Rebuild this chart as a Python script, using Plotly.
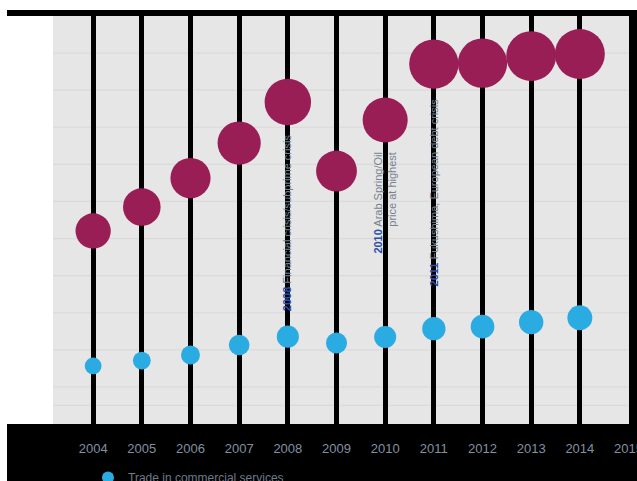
import plotly.graph_objects as go

years = [2004, 2005, 2006, 2007, 2008, 2009, 2010, 2011, 2012, 2013, 2014]
merchandise = [9.41, 10.70, 12.26, 14.15, 16.36, 12.64, 15.39, 18.41, 18.46, 18.84, 18.95]
services = [2.13, 2.42, 2.72, 3.26, 3.71, 3.37, 3.69, 4.14, 4.25, 4.49, 4.73]
tick_years = [2004, 2005, 2006, 2007, 2008, 2009, 2010, 2011, 2012, 2013, 2014, 2015]
tick_labels = [str(y) for y in tick_years]
y_grid_values = [0, 1, 3, 5, 7, 9, 11, 13, 15, 17, 19]

event_years = [2008, 2010, 2011]
event_texts = [
    "Financial crisis/subprime crisis",
    "Arab Spring/Oil<br>price at highest",
    "Fukushima, European debt crisis",
]
event_text_top = [14.7, 13.75, 16.6]

MAROON = "#981e55"
BLUE = "#2aace2"

W, H = 637, 481
ML, MR, MT, MB = 53, 8, 16, 57
PW = W - ML - MR
PH = H - MT - MB

def px(x):
    return (x - ML) / PW

def py(y):
    return (H - MB - y) / PH

sizeref = 2 * max(merchandise) / (50 ** 2)

fig = go.Figure()
fig.add_trace(go.Scatter(
    x=years, y=services, mode="markers", name="Trade in commercial services",
    marker=dict(size=services, sizemode="area", sizeref=sizeref, color=BLUE,
                line=dict(width=0), opacity=1),
))
fig.add_trace(go.Scatter(
    x=years, y=merchandise, mode="markers", name="Trade in merchandise",
    marker=dict(size=merchandise, sizemode="area", sizeref=sizeref, color=MAROON,
                line=dict(width=0), opacity=1),
))

# horizontal grid lines drawn above the black vertical grid lines
for gv in y_grid_values:
    fig.add_shape(type="line", xref="paper", yref="y", x0=0, x1=1, y0=gv, y1=gv,
                  line=dict(color="#dadada", width=1.2), layer="between")

for yr, txt, top in zip(event_years, event_texts, event_text_top):
    fig.add_annotation(
        x=yr, y=top, xref="x", yref="y", showarrow=False, textangle=-90,
        xanchor="center", yanchor="top", align="right",
        text=f"<b><span style='color:#2c4ea6'>{yr}</span></b> {txt}",
        font=dict(family="Liberation Sans, Arial", size=11, color="#76838f"),
        borderpad=0,
    )

white = dict(type="rect", xref="paper", yref="paper", fillcolor="white",
             line=dict(width=0), layer="below")
fig.add_shape(**white, x0=px(0), x1=px(W), y0=py(0), y1=py(10))
fig.add_shape(**white, x0=px(0), x1=px(7), y0=py(0), y1=py(H))
fig.add_shape(**white, x0=px(7), x1=px(ML), y0=py(16), y1=py(H - MB))

fig.update_layout(
    width=W, height=H,
    margin=dict(l=ML, r=MR, t=MT, b=MB, autoexpand=False),
    paper_bgcolor="black",
    plot_bgcolor="#e6e6e6",
    showlegend=True,
    legend=dict(xref="container", yref="container", x=88 / W, y=1 - 463 / H,
                xanchor="left", yanchor="top",
                orientation="v", bgcolor="rgba(0,0,0,0)",
                font=dict(family="Liberation Sans, Arial", size=12, color="#6c7a89"),
                itemsizing="constant"),
    xaxis=dict(range=[2003.175, 2015.01], tickmode="array", tickvals=tick_years,
               ticktext=tick_labels, showgrid=True, gridcolor="black", gridwidth=5,
               zeroline=False, showline=False, ticks="outside", ticklen=12,
               tickcolor="black", automargin=False, ticklabeloverflow="allow",
               tickfont=dict(family="Liberation Sans, Arial", size=13, color="#8290a0")),
    yaxis=dict(range=[-1, 21], showgrid=False, zeroline=False,
               showticklabels=False, showline=False, automargin=False),
)

fig.write_html("out.html")
